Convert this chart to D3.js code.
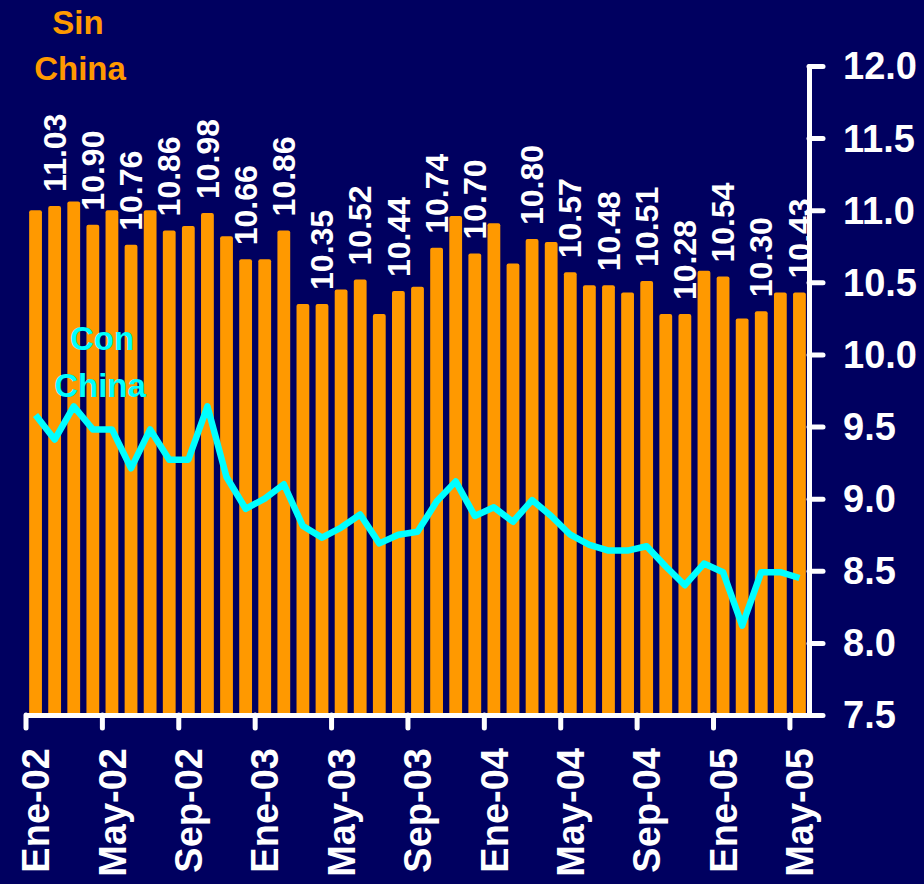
<!DOCTYPE html>
<html>
<head>
<meta charset="utf-8">
<script src="https://cdn.jsdelivr.net/npm/d3@7"></script>
<style>
  body { margin: 0; background: #000060; }
  text { font-family: "Liberation Sans", Arial, sans-serif; font-weight: bold; }
</style>
</head>
<body>
<div id="chart"></div>
<script>
// months Ene-02 .. May-05
const months = [
  "Ene-02","Feb-02","Mar-02","Abr-02","May-02","Jun-02","Jul-02","Ago-02","Sep-02","Oct-02","Nov-02","Dic-02",
  "Ene-03","Feb-03","Mar-03","Abr-03","May-03","Jun-03","Jul-03","Ago-03","Sep-03","Oct-03","Nov-03","Dic-03",
  "Ene-04","Feb-04","Mar-04","Abr-04","May-04","Jun-04","Jul-04","Ago-04","Sep-04","Oct-04","Nov-04","Dic-04",
  "Ene-05","Feb-05","Mar-05","Abr-05","May-05"
]
const sinChina = [
  11.00, 11.03, 11.06, 10.90, 11.00, 10.76, 11.00, 10.86, 10.89, 10.98, 10.82, 10.66,
  10.66, 10.86, 10.35, 10.35, 10.45, 10.52, 10.28, 10.44, 10.47, 10.74, 10.96, 10.70,
  10.91, 10.63, 10.80, 10.78, 10.57, 10.48, 10.48, 10.43, 10.51, 10.28, 10.28, 10.58,
  10.54, 10.25, 10.30, 10.43, 10.43
]
const conChina = [
  9.58, 9.41, 9.64, 9.48, 9.48, 9.21, 9.48, 9.27, 9.27, 9.64, 9.15, 8.93,
  9.00, 9.10, 8.81, 8.73, 8.80, 8.89, 8.69, 8.75, 8.77, 8.98, 9.12, 8.88,
  8.94, 8.84, 8.99, 8.88, 8.75, 8.68, 8.64, 8.64, 8.67, 8.53, 8.40, 8.55,
  8.49, 8.12, 8.49, 8.49, 8.45
]
// months that carry a value label
const labelMonths = [
  "Feb-02","Abr-02","Jun-02","Ago-02","Oct-02","Dic-02","Feb-03","Abr-03","Jun-03","Ago-03",
  "Oct-03","Dic-03","Mar-04","May-04","Jul-04","Sep-04","Nov-04","Ene-05","Mar-05","May-05"
]
const tickMonths = ["Ene-02","May-02","Sep-02","Ene-03","May-03","Sep-03","Ene-04","May-04","Sep-04","Ene-05","May-05"]
const yTicks = [7.5, 8.0, 8.5, 9.0, 9.5, 10.0, 10.5, 11.0, 11.5, 12.0]

const width = 924, height = 884

const svg = d3.select("#chart").append("svg")
    .attr("width", width)
    .attr("height", height)
svg.append("rect").attr("width", width).attr("height", height).attr("fill", "#000060")

const x = d3.scaleBand()
    .domain(months)
    .range([26, 809])
    .paddingInner(0.33)
    .paddingOuter(0.165)
const y = d3.scaleLinear()
    .domain([7.5, 12])
    .range([715, 66])

const data = months.map((m, i) => ({m: m, sin: sinChina[i], con: conChina[i]}))

// bars
svg.append("g").selectAll("rect")
    .data(data)
    .join("rect")
    .attr("x", d => x(d.m))
    .attr("y", d => y(d.sin))
    .attr("width", x.bandwidth())
    .attr("height", d => y(7.5) - y(d.sin) + 2)
    .attr("rx", 2)
    .attr("fill", "#FF9900")

// value labels
svg.append("g").selectAll("text")
    .data(data.filter(d => labelMonths.includes(d.m)))
    .join("text")
    .attr("transform", d => "translate(" + (x(d.m) + x.bandwidth() / 2) + "," + (y(d.sin) - 14) + ")rotate(-90)")
    .attr("dy", "0.35em")
    .attr("fill", "white")
    .style("font-size", "32px")
    .text(d => d.sin.toFixed(2))

// con china line
const line = d3.line()
    .x(d => x(d.m) + x.bandwidth() / 2)
    .y(d => y(d.con))
svg.append("path")
    .datum(data)
    .attr("d", line)
    .attr("fill", "none")
    .attr("stroke", "#00FFFF")
    .attr("stroke-width", 6.5)
    .attr("stroke-linejoin", "round")

// x axis
const xAxis = svg.append("g")
    .attr("transform", "translate(0,715)")
    .call(d3.axisBottom(x).tickValues(tickMonths).tickSize(13).tickSizeOuter(0))
xAxis.select(".domain").attr("stroke", "white").attr("stroke-width", 5).attr("stroke-linecap", "round")
xAxis.selectAll(".tick line")
    .attr("x1", -x.step() / 2).attr("x2", -x.step() / 2)
    .attr("stroke", "white").attr("stroke-width", 5).attr("stroke-linecap", "round")
xAxis.selectAll(".tick text")
    .attr("y", 0).attr("x", -33).attr("dy", "0.36em")
    .attr("transform", "rotate(-90)")
    .style("text-anchor", "end")
    .style("font-size", "38px")
    .attr("fill", "white")

// y axis
const yAxis = svg.append("g")
    .attr("transform", "translate(809,0)")
    .call(d3.axisRight(y).tickValues(yTicks).tickFormat(d3.format(".1f")).tickSize(14).tickPadding(20).tickSizeOuter(0))
yAxis.select(".domain").attr("stroke", "white").attr("stroke-width", 5).attr("stroke-linecap", "round")
yAxis.selectAll(".tick line").attr("stroke", "white").attr("stroke-width", 5).attr("stroke-linecap", "round")
yAxis.selectAll(".tick text")
    .attr("dy", "0.34em")
    .style("font-size", "38px")
    .attr("fill", "white")

// series names
const names = [
  {t: "Sin", x: 78, y: 34, c: "#FF9900"},
  {t: "China", x: 80, y: 80, c: "#FF9900"},
  {t: "Con", x: 102, y: 350, c: "#00FFFF"},
  {t: "China", x: 100, y: 397, c: "#00FFFF"}
]
svg.append("g").selectAll("text")
    .data(names)
    .join("text")
    .attr("x", d => d.x)
    .attr("y", d => d.y)
    .attr("text-anchor", "middle")
    .attr("fill", d => d.c)
    .style("font-size", "33px")
    .text(d => d.t)
</script>
</body>
</html>
